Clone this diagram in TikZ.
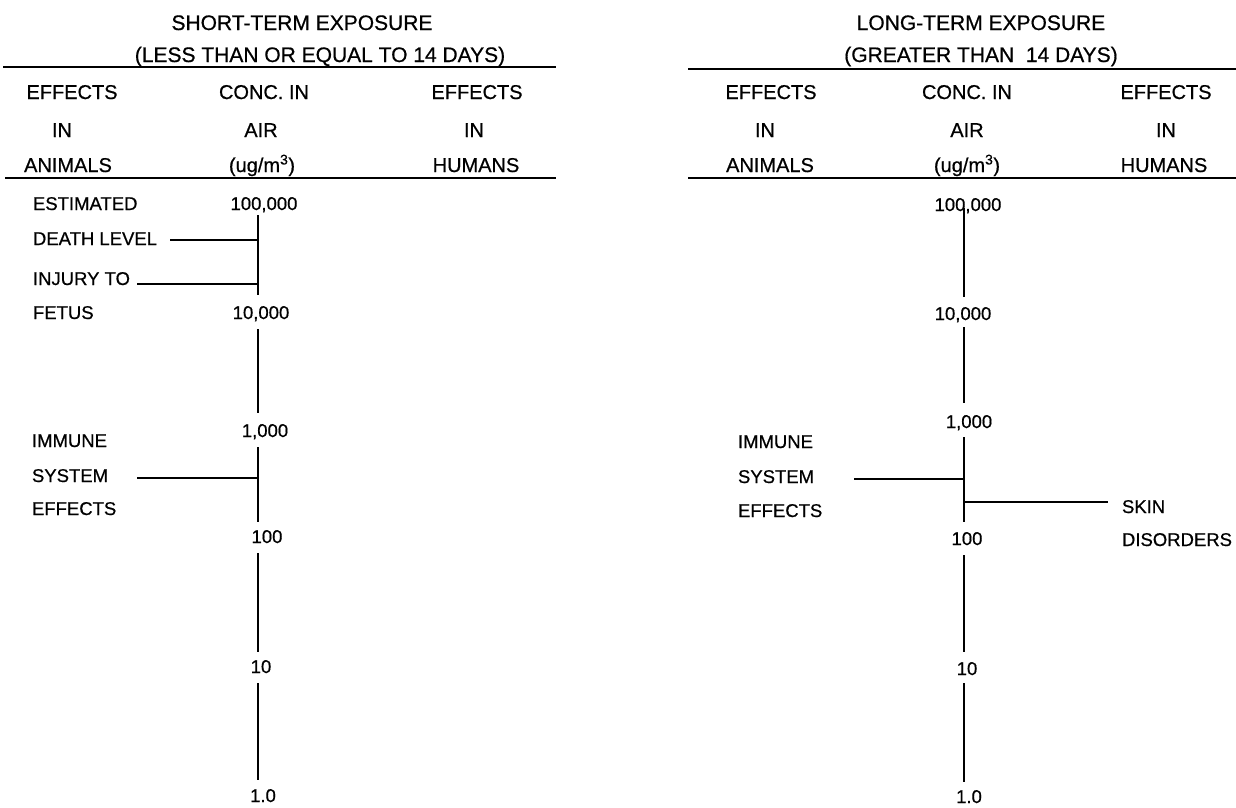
\documentclass[tikz,border=0pt]{standalone}
\usepackage{fontspec}
\setmainfont{Liberation Sans}[FakeBold=0.6]
\begin{document}
\begin{tikzpicture}[x=1pt,y=-1pt,
  every node/.style={inner sep=0pt, outer sep=0pt},
  ttl/.style={anchor=base, font=\fontsize{21}{24}\selectfont},
  colhead/.style={anchor=base, font=\fontsize{20}{24}\selectfont},
  lbl/.style={anchor=base west, font=\fontsize{18.5}{22}\selectfont},
  val/.style={anchor=base, font=\fontsize{18.5}{22}\selectfont},
  hrule/.style={line width=1.8pt},
  axisline/.style={line width=2.1pt},
  link/.style={line width=1.7pt}]
\path[use as bounding box] (0,0) rectangle (1236,807);

% ---------------- LEFT PANEL: SHORT-TERM ----------------
\node[ttl] (stitle) at (302,30) {SHORT-TERM EXPOSURE};
\node[ttl] (ssub) at (320,62) {(LESS THAN OR EQUAL TO 14 DAYS)};
\coordinate (sTopA) at (3,67);
\coordinate (sTopB) at (556,67);
\draw[hrule] (sTopA) -- (sTopB);

\node[colhead] (sh1) at (72,99) {EFFECTS};
\node[colhead] (sh2) at (264,99) {CONC. IN};
\node[colhead] (sh3) at (477,99) {EFFECTS};
\node[colhead] (sh4) at (62,137) {IN};
\node[colhead] (sh5) at (261,137) {AIR};
\node[colhead] (sh6) at (474,137) {IN};
\node[colhead] (sh7) at (68,172) {ANIMALS};
\node[colhead] (sh8) at (262,172) {(ug/m\textsuperscript{3})};
\node[colhead] (sh9) at (476,172) {HUMANS};
\coordinate (sHdA) at (5,178);
\coordinate (sHdB) at (556,178);
\draw[hrule] (sHdA) -- (sHdB);

\node[val] (sv5) at (264,210) {100,000};
\node[val] (sv4) at (261,319) {10,000};
\node[val] (sv3) at (265,437) {1,000};
\node[val] (sv2) at (267,543) {100};
\node[val] (sv1) at (261,673) {10};
\node[val] (sv0) at (263,802) {1.0};

\coordinate (sa1) at (258,215); \coordinate (sa2) at (258,295);
\coordinate (sa3) at (258,329); \coordinate (sa4) at (258,413);
\coordinate (sa5) at (258,447); \coordinate (sa6) at (258,522);
\coordinate (sa7) at (258,553); \coordinate (sa8) at (258,652);
\coordinate (sa9) at (258,683); \coordinate (sa10) at (258,780);
\draw[axisline] (sa1) -- (sa2);
\draw[axisline] (sa3) -- (sa4);
\draw[axisline] (sa5) -- (sa6);
\draw[axisline] (sa7) -- (sa8);
\draw[axisline] (sa9) -- (sa10);

\node[lbl] (sest) at (33,210) {ESTIMATED};
\node[lbl] (sdeath) at (33,245) {DEATH LEVEL};
\node[lbl] (sinj) at (33,285) {INJURY TO};
\node[lbl] (sfet) at (33,319) {FETUS};
\node[lbl] (simm) at (32,447) {IMMUNE};
\node[lbl] (ssys) at (32,482) {SYSTEM};
\node[lbl] (seff) at (32,515) {EFFECTS};

\coordinate (sdA) at (170,240); \coordinate (sdB) at (258,240);
\coordinate (siA) at (137,284); \coordinate (siB) at (258,284);
\coordinate (smA) at (137,478); \coordinate (smB) at (258,478);
\draw[link] (sdA) -- (sdB);
\draw[link] (siA) -- (siB);
\draw[link] (smA) -- (smB);

% ---------------- RIGHT PANEL: LONG-TERM ----------------
\node[ttl] (ltitle) at (981,30) {LONG-TERM EXPOSURE};
\node[ttl] (lsub) at (981,62) {(GREATER THAN\ \ 14 DAYS)};
\coordinate (lTopA) at (688,69);
\coordinate (lTopB) at (1236,69);
\draw[hrule] (lTopA) -- (lTopB);

\node[colhead] (lh1) at (771,99) {EFFECTS};
\node[colhead] (lh2) at (967,99) {CONC. IN};
\node[colhead] (lh3) at (1166,99) {EFFECTS};
\node[colhead] (lh4) at (765,137) {IN};
\node[colhead] (lh5) at (967,137) {AIR};
\node[colhead] (lh6) at (1166,137) {IN};
\node[colhead] (lh7) at (770,172) {ANIMALS};
\node[colhead] (lh8) at (967,172) {(ug/m\textsuperscript{3})};
\node[colhead] (lh9) at (1164,172) {HUMANS};
\coordinate (lHdA) at (688,178);
\coordinate (lHdB) at (1236,178);
\draw[hrule] (lHdA) -- (lHdB);

\node[val] (lv5) at (968,211) {100,000};
\node[val] (lv4) at (963,320) {10,000};
\node[val] (lv3) at (969,428) {1,000};
\node[val] (lv2) at (967,545) {100};
\node[val] (lv1) at (967,675) {10};
\node[val] (lv0) at (969,803) {1.0};

\coordinate (la1) at (964,208); \coordinate (la2) at (964,297);
\coordinate (la3) at (964,327); \coordinate (la4) at (964,403);
\coordinate (la5) at (964,437); \coordinate (la6) at (964,522);
\coordinate (la7) at (964,555); \coordinate (la8) at (964,652);
\coordinate (la9) at (964,683); \coordinate (la10) at (964,782);
\draw[axisline] (la1) -- (la2);
\draw[axisline] (la3) -- (la4);
\draw[axisline] (la5) -- (la6);
\draw[axisline] (la7) -- (la8);
\draw[axisline] (la9) -- (la10);

\node[lbl] (limm) at (738,448) {IMMUNE};
\node[lbl] (lsys) at (738,483) {SYSTEM};
\node[lbl] (leff) at (738,517) {EFFECTS};
\node[lbl] (lskin) at (1122,513) {SKIN};
\node[lbl] (ldis) at (1122,546) {DISORDERS};

\coordinate (lmA) at (854,479); \coordinate (lmB) at (964,479);
\coordinate (lkA) at (964,502); \coordinate (lkB) at (1108,502);
\draw[link] (lmA) -- (lmB);
\draw[link] (lkA) -- (lkB);
\end{tikzpicture}
\end{document}
